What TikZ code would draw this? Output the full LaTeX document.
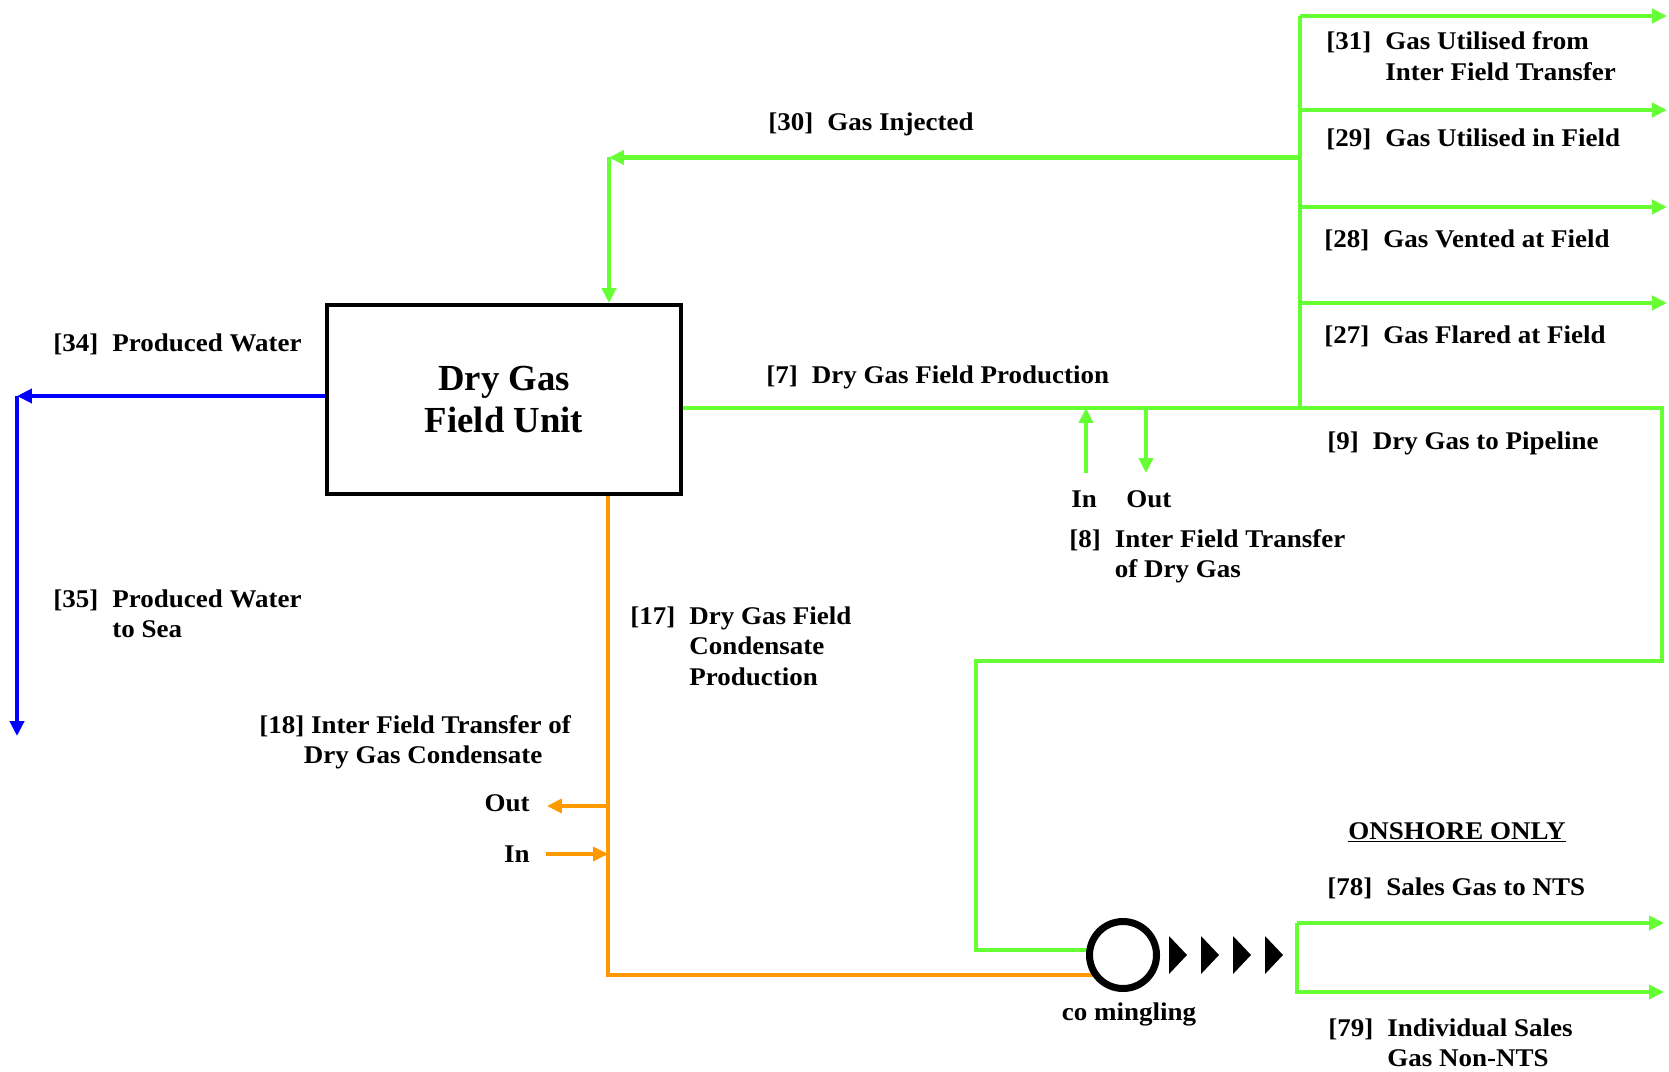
\documentclass[tikz,border=0pt]{standalone}
\usepackage{fontspec}
\setmainfont[FakeStretch=1.06]{Liberation Serif}
\newfontfamily\unitfont{Liberation Serif}
\usetikzlibrary{arrows.meta}
\definecolor{gasgreen}{RGB}{102,255,51}
\definecolor{condorange}{RGB}{255,153,0}
\definecolor{waterblue}{RGB}{0,0,255}
\newcommand{\flowlbl}[2]{\begin{tabular}[t]{@{}l@{\hspace{0.55em}}l@{}}#1 & \begin{tabular}[t]{@{}l@{}}#2\end{tabular}\end{tabular}}
\begin{document}
\begin{tikzpicture}[x=0.02cm, y=-0.02cm, >={Triangle[length=8.5pt,width=8pt]},
  every node/.style={font=\fontsize{14.5}{17.6}\selectfont\bfseries, inner sep=0pt},
  gas/.style={draw=gasgreen, line width=2.3pt},
  cond/.style={draw=condorange, line width=2pt},
  water/.style={draw=waterblue, line width=2.3pt},
  lbl/.style={anchor=base west}]
\useasboundingbox (0,0) rectangle (1669,1071);
% field unit
\node[draw, line width=2.3pt, minimum width=7.08cm, minimum height=3.78cm, align=center,
  font=\unitfont\fontsize{20.9}{24.4}\selectfont\bfseries] (unit) at (504,399.5) {Dry Gas\\Field Unit};
% produced water
\coordinate (w34) at (17,396);
\coordinate (w35) at (17,736);
\draw[water,->] (unit.west |- w34) -- (w34);
\draw[water,->] (w34) -- (w35);
% gas injected
\coordinate (j30) at (1300,157.5);
\coordinate (c30) at (609,157.5);
\draw[gas,->] (j30) -- (c30);
\draw[gas,->] (c30) -- (c30 |- unit.north);
% gas uses at field
\foreach \n/\y in {31/16, 29/110, 28/207, 27/303} {
  \coordinate (s\n) at (1300,\y);
  \coordinate (e\n) at (1667,\y);
  \draw[gas,->] (s\n) -- (e\n);
}
% production line
\coordinate (j7) at (1300,408);
\coordinate (c9) at (1662,408);
\coordinate (d9) at (1662,661);
\coordinate (f9) at (976,661);
\coordinate (g9) at (976,950);
\coordinate (mixc) at (1123,955);
\draw[gas] (s31) -- (j7);
\draw[gas] (unit.east |- j7) -- (c9) -- (d9) -- (f9) -- (g9) -- (g9 -| mixc);
% inter field transfer of dry gas
\coordinate (in8) at (1086,473);
\coordinate (out8) at (1146,473);
\draw[gas,->] (in8) -- (in8 |- j7);
\draw[gas,->] (out8 |- j7) -- (out8);
% condensate
\coordinate (c17) at (608,975);
\coordinate (o18) at (547,806);
\coordinate (i18) at (546,854);
\draw[cond] (c17 |- unit.south) -- (c17) -- (c17 -| mixc);
\draw[cond,->] (o18 -| c17) -- (o18);
\draw[cond,->] (i18) -- (i18 -| c17);
% co mingling
\node[circle, draw, line width=4pt, fill=white, minimum size=1.34cm] (mix) at (mixc) {};
\foreach \x in {1169,1201,1233,1265}
  \fill (\x,936) -- (\x+18,955) -- (\x,974) -- cycle;
% sales gas
\coordinate (k78) at (1297,923);
\coordinate (k79) at (1297,992);
\coordinate (e78) at (1664,923);
\coordinate (e79) at (1664,992);
\draw[gas,->] (k78) -- (e78);
\draw[gas,->] (k78) -- (k79) -- (e79);
% labels
\node[lbl] (l30) at (768,131) {\flowlbl{[30]}{Gas Injected}};
\node[lbl] (l31) at (1326,50) {\flowlbl{[31]}{Gas Utilised from\\Inter Field Transfer}};
\node[lbl] (l29) at (1326,147) {\flowlbl{[29]}{Gas Utilised in Field}};
\node[lbl] (l28) at (1324,247) {\flowlbl{[28]}{Gas Vented at Field}};
\node[lbl] (l27) at (1324,343) {\flowlbl{[27]}{Gas Flared at Field}};
\node[lbl] (l7) at (766,383) {\flowlbl{[7]}{Dry Gas Field Production}};
\node[lbl] (l9) at (1327,449) {\flowlbl{[9]}{Dry Gas to Pipeline}};
\node[lbl] (lin8) at (1071,507) {In};
\node[lbl] (lout8) at (1126,507) {Out};
\node[lbl] (l8) at (1069,547) {\flowlbl{[8]}{Inter Field Transfer\\of Dry Gas}};
\node[lbl] (l34) at (53,351) {\flowlbl{[34]}{Produced Water}};
\node[lbl] (l35) at (53,607) {\flowlbl{[35]}{Produced Water\\to Sea}};
\node[lbl] (l17) at (630,624) {\flowlbl{[17]}{Dry Gas Field\\Condensate\\Production}};
\node[lbl] (l18) at (259,733) {\begin{tabular}[t]{@{}l@{}}[18] Inter Field Transfer of\\\hspace{1.75em}Dry Gas Condensate\end{tabular}};
\node[anchor=base east] (lout18) at (530,811) {Out};
\node[anchor=base east] (lin18) at (530,862) {In};
\node[lbl] (lonshore) at (1348,839) {\underline{ONSHORE ONLY}};
\node[lbl] (l78) at (1327,895) {\flowlbl{[78]}{Sales Gas to NTS}};
\node[anchor=base] (lmix) at (1129,1020) {co mingling};
\node[lbl] (l79) at (1328,1036) {\flowlbl{[79]}{Individual Sales\\Gas Non-NTS}};
\end{tikzpicture}
\end{document}
